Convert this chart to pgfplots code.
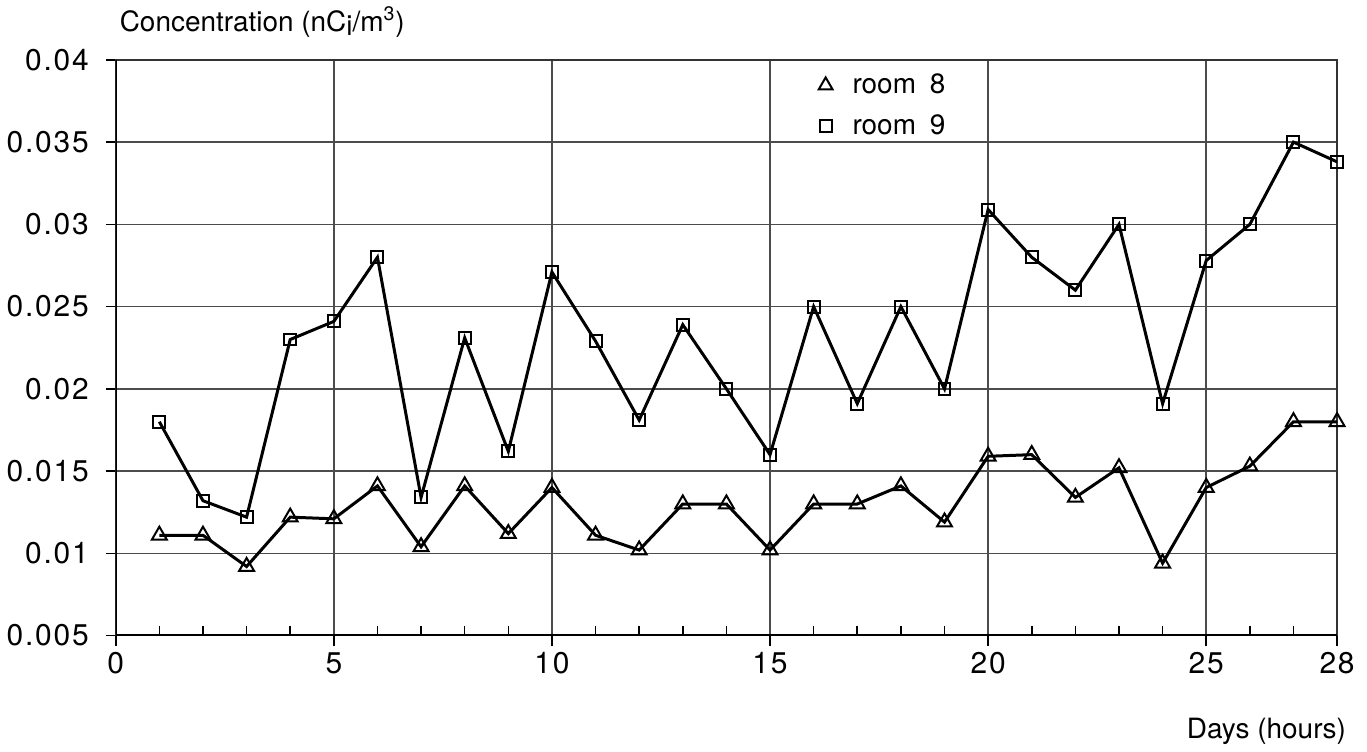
\documentclass[border=0pt]{standalone}
\usepackage{fontspec}
\setmainfont{TeX Gyre Heros}
\newfontfamily\tickfont{TeX Gyre Heros}[LetterSpace=6]
\usepackage{pgfplots}
\pgfplotsset{compat=1.18}

\pgfplotstableread{
x r8 r9
1 0.0111 0.0180
2 0.0111 0.0132
3 0.0092 0.0122
4 0.0122 0.0230
5 0.0121 0.0241
6 0.0141 0.0280
7 0.0104 0.0134
8 0.0141 0.0231
9 0.0112 0.0162
10 0.0140 0.0271
11 0.0111 0.0229
12 0.0102 0.0181
13 0.0130 0.0239
14 0.0130 0.0200
15 0.0102 0.0160
16 0.0130 0.0250
17 0.0130 0.0191
18 0.0141 0.0250
19 0.0119 0.0200
20 0.0159 0.0309
21 0.0160 0.0280
22 0.0134 0.0260
23 0.0152 0.0300
24 0.0094 0.0191
25 0.0140 0.0278
26 0.0153 0.0300
27 0.0180 0.0350
28 0.0180 0.0338
}\data

\begin{document}
\begin{tikzpicture}
\begin{axis}[
  scale only axis, width=612pt, height=288.5pt,
  xmin=0, xmax=28, ymin=0.005, ymax=0.04,
  scaled y ticks=false,
  xtick={0,5,10,15,20,25,28}, xticklabels={0,5,10,15,20,25,28},
  minor xtick={1,2,3,4,6,7,8,9,11,12,13,14,16,17,18,19,21,22,23,24,26,27},
  ytick={0.005,0.01,0.015,0.02,0.025,0.03,0.035,0.04},
  yticklabels={0.005,0.01,0.015,0.02,0.025,0.03,0.035,0.04},
  tick pos=left, tick align=outside,
  major tick length=5pt, minor tick length=5pt,
  tick style={black, line width=0.8pt},
  minor tick style={yshift=5pt},
  xmajorgrids, ymajorgrids,
  major grid style={black!70, line width=0.8pt},
  axis line style={black!80, line width=0.8pt},
  ticklabel style={font=\tickfont\fontsize{15}{17}\selectfont},
  yticklabel style={xshift=-5pt},
  legend style={at={(0.572,0.99)}, anchor=north west, draw=none, fill=none,
    font=\fontsize{14}{16}\selectfont, row sep=5pt, column sep=8pt, inner sep=2pt},
  legend cell align=left,
]
\draw[line width=1.5pt] (rel axis cs:0,1) -- (rel axis cs:0,0) -- (rel axis cs:1,0);
\addplot[black, line width=1.5pt, mark=triangle, mark size=4.3pt,
  mark options={fill=white, line width=1pt}, forget plot] table[x=x,y=r8] {\data};
\addplot[black, line width=1.5pt, mark=square, mark size=3pt,
  mark options={fill=white, line width=1pt}, forget plot] table[x=x,y=r9] {\data};
\addlegendimage{only marks, black, mark=triangle, mark size=4pt, mark options={line width=1pt}}
\addlegendentry{room\hspace{0.5em}8}
\addlegendimage{only marks, black, mark=square, mark size=3pt, mark options={line width=1pt}}
\addlegendentry{room\hspace{0.5em}9}
\end{axis}
\node[anchor=west, font=\fontsize{14}{16}\selectfont] at ([shift={(-1.5pt,19pt)}]current axis.north west)
  {Concentration (nC\raisebox{-2pt}{i}/m\textsuperscript{3})};
\node[anchor=east, font=\fontsize{14}{16}\selectfont] at ([shift={(8pt,-48pt)}]current axis.south east)
  {Days (hours)};
\path ([shift={(-56.5pt,-56.5pt)}]current axis.south west) rectangle ([shift={(15pt,30pt)}]current axis.north east);
\end{tikzpicture}
\end{document}
